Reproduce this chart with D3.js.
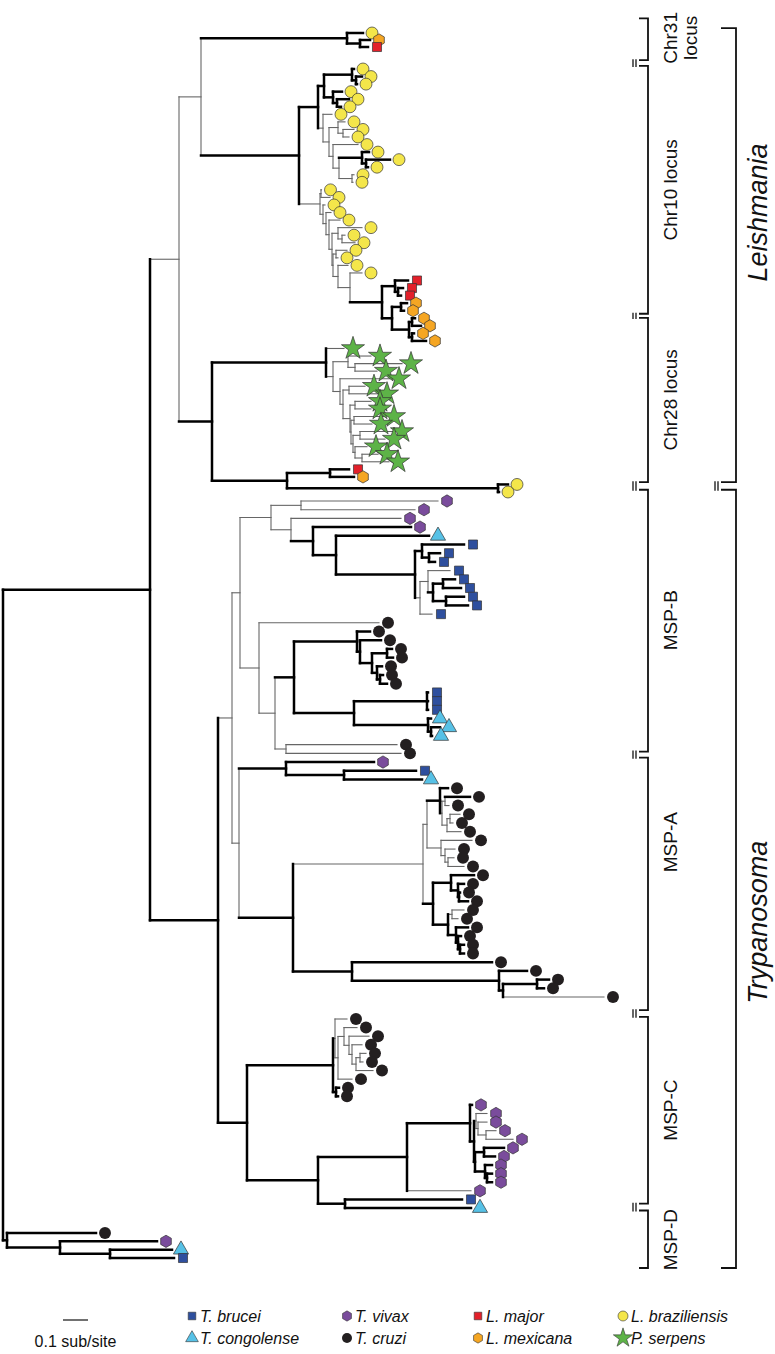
<!DOCTYPE html>
<html><head><meta charset="utf-8">
<script src="https://cdn.jsdelivr.net/npm/d3@7"></script>
<style>body{margin:0;background:#fff}svg{display:block}</style></head>
<body><svg id="c" width="775" height="1354"></svg>
<script>
// ---------------- DATA ----------------
const speciesCodes  = ["Tb", "Tco", "Tv", "Tc", "Lm", "Lx", "Lb", "Ps"];
const speciesNames  = ["T. brucei", "T. congolense", "T. vivax", "T. cruzi", "L. major", "L. mexicana", "L. braziliensis", "P. serpens"];
const speciesColors = ["#2e4f9e", "#56c1e6", "#7a4c9c", "#231f20", "#e3202a", "#f5a623", "#f4e64a", "#5db347"];
const speciesShapes = ["square", "triangle", "hexagon", "circle", "square", "hexagon", "circle", "star"];

// Tree clades in Newick (branch lengths in substitutions/site; '*' = well-supported, thick branch)
const chr31 = "(Lb*:0.064,(Lx*:0.04,Lm*:0.032)*:0.052)*";
const c10a  = "(((Lb*:0.008,(Lb*:0.024,Lb*:0.004)*:0.016)*:0.112,(Lb*:0.036,(Lb*:0.048,Lb*:0.016)*:0.016)*:0.036)*:0.024,(Lb:0.036,((Lb:0.028,(Lb:0.044,Lb:0.024):0.02):0.036,(Lb:0.1,((Lb*:0.028,(Lb*:0.096,Lb*:0.008)*:0.016)*:0.092,(Lb:0.008,Lb:0.004):0.052):0.024):0.016):0.024):0.02)*";
const lmLx  = "((Lm*:0.052,(Lm*:0.02,Lm*:0.012)*:0.012)*:0.052,((Lx*:0.024,Lx*:0.012)*:0.036,((Lx*:0.012,Lx*:0.036)*:0.012,(Lx*:0.008,Lx*:0.056)*:0.012)*:0.068)*:0.04)*";
const c10bInner = "((Lb:0.096,(Lb:0.012,Lb:0.052):0.016):0.024,((Lb:0.044,Lb:0.008):0.012,(Lb:0.04,(Lb:0.048,{lmLx}:0.128):0.048):0.02):0.004)";
const c10b  = "((Lb:0.002,Lb:0.036):0.004,(Lb:0.008,(Lb:0.02,(Lb:0.044,{c10bInner}:0.012):0.012):0.012):0.012)";
const chr10 = "({c10a}:0.076,{c10b}:0.084)*";
const chr28Inner = "((Ps:0.124,Ps:0.072):0.012,((Ps:0.132,Ps:0.1):0.028,(Ps:0.048,(Ps:0.064,Ps:0.108):0.028):0.008):0.008)";
const chr28 = "(Ps:0.072,((Ps:0.092,(Ps:0.188,Ps:0.088):0.028):0.06,(Ps:0.2,((Ps:0.064,Ps:0.116):0.024,((Ps:0.064,Ps:0.064):0.02,{chr28Inner}:0.004):0.028):0.012):0.028):0.028)*";
const lmPair = "((Lm*:0.076,Lx*:0.096)*:0.172,(Lb*:0.04,Lb*:0.004)*:0.844)*";
const leish = "(({chr31}:0.584,{chr10}:0.392):0.088,({chr28}:0.456,{lmPair}:0.3)*:0.132)";

const bBrucei = "((Tb*:0.168,(Tb*:0.044,Tb*:0.024)*:0.028)*:0.028,((Tb:0.088,((Tb*:0.048,Tb*:0.072)*:0.04,(Tb*:0.072,Tb*:0.088)*:0.052)*:0.02):0.032,Tb:0.048):0.02)*";
const bVivax  = "((Tv:0.548,Tv:0.456):0.12,(Tv:0.44,(Tv*:0.392,(Tco*:0.372,{bBrucei}:0.316)*:0.092)*:0.088):0.08)";
const bCruzi  = "(Tc*:0.052,(Tc*:0.084,((Tc*:0.02,Tc*:0.024)*:0.06,(Tc*:0.02,(Tc*:0.012,Tc*:0.028)*:0.012)*:0.02)*:0.048)*:0.012)*";
const bAfr    = "((Tb*:0.004,Tb*:0.004,Tb*:0.004)*:0.292,(Tco*:0.012,(Tco*:0.036,Tco*:0.004)*:0.012)*:0.296)*";
const bRest   = "(Tc:0.48,(({bCruzi}:0.252,{bAfr}:0.24)*:0.076,(Tc:0.444,Tc:0.46):0.044):0.064)";
const mspB    = "({bVivax}:0.124,{bRest}:0.076)";

const aAfr = "(Tv*:0.352,(Tb*:0.288,Tco*:0.312)*:0.232)*";
const aC1  = "(Tc*:0.032,((Tc*:0.1,Tc:0.016):0.012,((Tc:0.04,Tc:0.012):0.012,Tc:0.056):0.02):0.008)*";
const aC2  = "(Tc:0.124,(Tc:0.04,(Tc:0.024,Tc:0.064):0.012):0.016)";
const aC3  = "(Tc*:0.092,(Tc*:0.024,(Tc*:0.004,Tc*:0.036)*:0.004)*:0.028)*";
const aC4  = "((Tc:0.048,Tc:0.024):0.016,(Tc*:0.048,(Tc*:0.012,(Tc*:0.016,Tc*:0.016)*:0.008)*:0.008)*:0.032)*";
const aMain = "(({aC1}:0.052,{aC2}:0.056):0.016,({aC3}:0.072,{aC4}:0.06)*:0.04)";
const aLong = "(Tc*:0.56,(Tc*:0.112,((Tc*:0.048,Tc*:0.028)*:0.136,Tc:0.404)*:0.016)*:0.588)*";
const mspA  = "({aAfr}:0.188,({aMain}:0.52,{aLong}:0.236)*:0.216)";

const cCruzi = "((Tc:0.048,((Tc:0.052,(Tc:0.08,(Tc:0.04,((Tc:0.024,Tc:0.012):0.016,Tc:0.068):0.016):0.012):0.02):0.024,Tc:0.056):0.012):0.008,(Tc*:0.012,Tc*:0.008)*:0.012)*";
const cVivax = "(Tv*:0.008,((Tv:0.044,(Tv:0.036,(Tv:0.04,Tv:0.108):0.032):0.008):0.008,((Tv*:0.08,Tv*:0.044)*:0.036,(Tv*:0.028,(Tv*:0.02,Tv*:0.02)*:0.008)*:0.04)*:0.004)*:0.016)*";
const mspC   = "({cCruzi}:0.344,(({cVivax}:0.252,Tv:0.256)*:0.356,(Tb*:0.468,Tco*:0.504)*:0.108)*:0.284)*";
const tryp   = "(({mspB}:0.032,{mspA}:0.028):0.056,{mspC}:0.116)*";
const outgroup = "(Tc*:0.356,(Tv*:0.388,(Tco*:0.248,Tb*:0.256)*:0.2)*:0.212)*";
const treeRoot = "(({leish}:0.116,{tryp}:0.272)*:0.588,{outgroup}:0.016)*";

// right-hand annotations (positions in leaf-slot units)
const cladeBrackets = [
  {lines: ["Chr31", "locus"], from: -2.1, to: 2.6, at: 0.7},
  {lines: ["Chr10 locus"], from: 2.86, to: 35.4, at: 19},
  {lines: ["Chr28 locus"], from: 35.96, to: 57.7, at: 46.8},
  {lines: ["MSP-B"], from: 58.7, to: 88.8, at: 73.7},
  {lines: ["MSP-A"], from: 89.5, to: 117.6, at: 99.2},
  {lines: ["MSP-C"], from: 117.9, to: 139.5, at: 128.6},
  {lines: ["MSP-D"], from: 140.1, to: 145.2, at: 141.8}
];
const genusBrackets = [
  {name: "Leishmania", from: -0.7, to: 57.7, at: 22},
  {name: "Trypanosoma", from: 58.7, to: 145.2, at: 108.4}
];
const scaleBarValue = 0.1;
const scaleBarLabel = "0.1 sub/site";

// ---------------- PARSE ----------------
const subs = {};
function parseNewick(str) {
  let i = 0;
  function node() {
    let n = {children: []};
    if (str[i] === "(") {
      i++;
      n.children.push(node());
      while (str[i] === ",") { i++; n.children.push(node()); }
      i++;
    }
    let label = "";
    while (i < str.length && !",():".includes(str[i])) label += str[i++];
    if (label[0] === "{") n = subs[label.slice(1, -1)];
    else { n.thick = label.endsWith("*"); n.sp = label.replace("*", "") || null; }
    n.length = 0;
    if (str[i] === ":") { i++; let num = ""; while (i < str.length && /[0-9.eE-]/.test(str[i])) num += str[i++]; n.length = +num; }
    return n;
  }
  return node();
}
function tagSeg(n, s) { if (n.children.length) n.children.forEach(c => tagSeg(c, s)); else if (n.seg === undefined) n.seg = s; }
function def(name, str, seg) { const n = parseNewick(str); if (seg !== undefined) tagSeg(n, seg); subs[name] = n; }

def("chr31", chr31, 0);
def("c10a", c10a); def("lmLx", lmLx); def("c10bInner", c10bInner); def("c10b", c10b);
def("chr10", chr10, 1); def("chr28Inner", chr28Inner); def("chr28", chr28, 1); def("lmPair", lmPair, 1);
def("leish", leish);
def("bBrucei", bBrucei); def("bVivax", bVivax); def("bCruzi", bCruzi); def("bAfr", bAfr); def("bRest", bRest);
def("mspB", mspB, 2);
def("aAfr", aAfr); def("aC1", aC1); def("aC2", aC2); def("aC3", aC3); def("aC4", aC4); def("aMain", aMain); def("aLong", aLong);
def("mspA", mspA, 2);
def("cCruzi", cCruzi); def("cVivax", cVivax); def("mspC", mspC, 3);
def("tryp", tryp); def("outgroup", outgroup, 4);
const rootData = parseNewick(treeRoot);

// ---------------- LAYOUT ----------------
const svg = d3.select("#c");
const h = d3.hierarchy(rootData, d => d.children.length ? d.children : null);
h.eachBefore(n => { n.dist = n.parent ? n.parent.dist + n.data.length : 0; });
const leaves = h.leaves();
leaves.forEach((l, i) => l.idx = i);

const segExtent = [[33, 47], [69, 492], [501, 997], [1019, 1208], [1233, 1258]];
const dom = [], rng = [];
segExtent.forEach((r, s) => {
  const ls = leaves.filter(l => l.data.seg === s);
  dom.push(ls[0].idx, ls[ls.length - 1].idx); rng.push(r[0], r[1]);
});
const y = d3.scaleLinear().domain(dom).range(rng);
const x = d3.scaleLinear().domain([0, 1]).range([3, 253]);
h.eachAfter(n => { n.y = n.children ? (n.children[0].y + n.children[n.children.length - 1].y) / 2 : y(n.idx); });

const segs = [];
h.descendants().forEach(n => {
  const xn = x(n.dist);
  if (n.parent) segs.push({x1: x(n.parent.dist), x2: xn, y1: n.y, y2: n.y, thick: n.data.thick});
  if (n.children) segs.push({x1: xn, x2: xn, y1: n.children[0].y, y2: n.children[n.children.length - 1].y, thick: n.data.thick});
});
segs.sort((a, b) => a.thick - b.thick);
svg.append("g").selectAll("line").data(segs).join("line")
  .attr("x1", d => d.x1).attr("x2", d => d.x2).attr("y1", d => d.y1).attr("y2", d => d.y2)
  .attr("stroke", d => d.thick ? "#000" : "#666")
  .attr("stroke-width", d => d.thick ? 2.5 : 1.1)
  .attr("stroke-linecap", "square");

// symbols
const symHex = { draw(ctx, size) {
  const r = Math.sqrt(2 * size / (3 * Math.sqrt(3)));
  for (let k = 0; k < 6; k++) { const a = -Math.PI / 2 + k * Math.PI / 3; const px = r * Math.cos(a), py = r * Math.sin(a); k ? ctx.lineTo(px, py) : ctx.moveTo(px, py); }
  ctx.closePath(); } };
const shapeType = {square: d3.symbolSquare, triangle: d3.symbolTriangle, circle: d3.symbolCircle, star: d3.symbolStar, hexagon: symHex};
const shapeSize = {square: 82, triangle: 100, circle: 112, star: 165, hexagon: 98};
const spIndex = c => speciesCodes.indexOf(c);
const symbolPath = (shape, scale = 1) => d3.symbol().type(shapeType[shape]).size(shapeSize[shape] * scale)();

svg.append("g").selectAll("path").data(leaves).join("path")
  .attr("transform", d => `translate(${x(d.dist) + 9},${d.y})`)
  .attr("d", d => symbolPath(speciesShapes[spIndex(d.data.sp)]))
  .attr("fill", d => speciesColors[spIndex(d.data.sp)])
  .attr("stroke", d => d.data.sp === "Tc" ? "none" : "#333")
  .attr("stroke-width", 0.7);

// brackets
const font = "'Liberation Sans', Arial, sans-serif";
const br = svg.append("g").attr("fill", "none").attr("stroke", "#111").attr("stroke-width", 1.8);
function bracket(b, xv, xt, prev) {
  br.append("path").attr("d", `M${xt},${y(b.from)}H${xv}V${y(b.to)}H${xt}`);
  if (prev) {
    const y0 = y(prev.to) - 1, y1 = y(b.from) + 1;
    [xt - 6, xt - 3].forEach(xx => br.append("line").attr("x1", xx).attr("x2", xx).attr("y1", y0).attr("y2", y1).attr("stroke-width", 1.3));
  }
}
cladeBrackets.forEach((b, i) => {
  bracket(b, 648, 639, i ? cladeBrackets[i - 1] : null);
  b.lines.forEach((t, k) => {
    svg.append("text").attr("transform", `translate(${677 + k * 20},${y(b.at)}) rotate(-90)`)
      .attr("text-anchor", "middle").attr("font-family", font).attr("font-size", 19).attr("fill", "#111").text(t);
  });
});
genusBrackets.forEach((b, i) => {
  bracket(b, 736, 721, i ? genusBrackets[i - 1] : null);
  svg.append("text").attr("transform", `translate(767,${y(b.at)}) rotate(-90)`)
    .attr("text-anchor", "middle").attr("font-family", font).attr("font-style", "italic")
    .attr("font-size", 27).attr("fill", "#111").text(b.name);
});

// legend
const colX = [192, 347, 478, 623], rowY = [1316, 1338];
const lg = svg.append("g");
speciesCodes.forEach((c, i) => {
  const cx = colX[Math.floor(i / 2)], cy = rowY[i % 2];
  lg.append("path").attr("transform", `translate(${cx},${cy})`)
    .attr("d", symbolPath(speciesShapes[i], 0.7))
    .attr("fill", speciesColors[i]).attr("stroke", c === "Tc" ? "none" : "#333").attr("stroke-width", 0.6);
  lg.append("text").attr("x", cx + 8).attr("y", cy + 6).attr("font-family", font).attr("font-style", "italic")
    .attr("font-size", 16).attr("fill", "#111").text(speciesNames[i]);
});
const sbLen = x(scaleBarValue) - x(0);
lg.append("line").attr("x1", 63).attr("x2", 63 + sbLen).attr("y1", 1320).attr("y2", 1320).attr("stroke", "#111").attr("stroke-width", 1.2);
lg.append("text").attr("x", 63 + sbLen / 2).attr("y", 1347).attr("text-anchor", "middle")
  .attr("font-family", font).attr("font-size", 16).attr("fill", "#111").text(scaleBarLabel);
</script>
</body></html>
